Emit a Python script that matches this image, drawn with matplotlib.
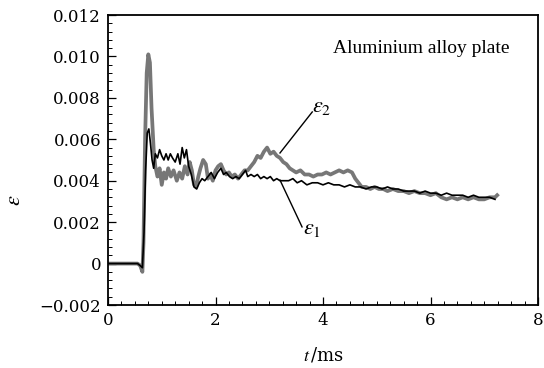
import matplotlib
matplotlib.use("Agg")
from matplotlib import pyplot as plt
from matplotlib.ticker import MultipleLocator

plt.rcParams["mathtext.fontset"] = "stix"

# datos: tiempo (ms) y deformacion
t2 = [0.0, 0.55, 0.60, 0.64, 0.66, 0.69, 0.72, 0.75, 0.78, 0.81, 0.85, 0.88, 0.92, 0.96,
      1.00, 1.04, 1.08, 1.12, 1.17, 1.22, 1.28, 1.33, 1.38, 1.43, 1.48, 1.52, 1.56, 1.60,
      1.64, 1.68, 1.72, 1.77, 1.82, 1.86, 1.90, 1.95, 2.00, 2.05, 2.10, 2.15, 2.20, 2.25,
      2.30, 2.36, 2.42, 2.48, 2.54, 2.60, 2.66, 2.72, 2.78, 2.84, 2.90, 2.96, 3.02, 3.08,
      3.14, 3.20, 3.26, 3.32, 3.38, 3.44, 3.50, 3.58, 3.66, 3.74, 3.82, 3.90, 3.98, 4.06,
      4.14, 4.22, 4.30, 4.38, 4.46, 4.54, 4.60, 4.66, 4.72, 4.80, 4.88, 4.96, 5.04, 5.12,
      5.20, 5.30, 5.40, 5.50, 5.60, 5.70, 5.80, 5.90, 6.00, 6.10, 6.20, 6.30, 6.40, 6.50,
      6.60, 6.70, 6.80, 6.90, 7.00, 7.10, 7.20, 7.24]
eps2 = [0.0, 0.0, -0.0001, -0.0004, 0.0010, 0.0060, 0.0092, 0.0101, 0.0097, 0.0075, 0.0055,
        0.0047, 0.0042, 0.0046, 0.0038, 0.0044, 0.0041, 0.0046, 0.0042, 0.0045, 0.0040,
        0.0044, 0.0041, 0.0047, 0.0043, 0.0049, 0.0045, 0.0038, 0.0037, 0.0042, 0.0046,
        0.0050, 0.0048, 0.0041, 0.0043, 0.0040, 0.0045, 0.0047, 0.0048, 0.0045, 0.0043,
        0.0044, 0.0042, 0.0043, 0.0041, 0.0043, 0.0045, 0.0045, 0.0047, 0.0049, 0.0052,
        0.0051, 0.0054, 0.0056, 0.0053, 0.0054, 0.0052, 0.0051, 0.0049, 0.0048, 0.0046,
        0.0045, 0.0044, 0.0045, 0.0043, 0.0043, 0.0042, 0.0043, 0.0043, 0.0044, 0.0043,
        0.0044, 0.0045, 0.0044, 0.0045, 0.0044, 0.0041, 0.0039, 0.0037, 0.0037, 0.0036,
        0.0037, 0.0036, 0.0036, 0.0035, 0.0036, 0.0035, 0.0035, 0.0034, 0.0035, 0.0034,
        0.0034, 0.0033, 0.0034, 0.0032, 0.0031, 0.0032, 0.0031, 0.0032, 0.0031, 0.0032,
        0.0031, 0.0031, 0.0032, 0.0032, 0.0033]

t1 = [0.0, 0.55, 0.60, 0.64, 0.67, 0.70, 0.73, 0.76, 0.79, 0.82, 0.85, 0.88, 0.92, 0.96,
      1.00, 1.04, 1.08, 1.12, 1.16, 1.20, 1.25, 1.30, 1.34, 1.38, 1.42, 1.46, 1.50, 1.55,
      1.60, 1.65, 1.70, 1.75, 1.80, 1.86, 1.92, 1.98, 2.04, 2.10, 2.15, 2.20, 2.26, 2.32,
      2.38, 2.44, 2.50, 2.56, 2.60, 2.66, 2.72, 2.78, 2.84, 2.90, 2.96, 3.02, 3.08, 3.14,
      3.20, 3.28, 3.36, 3.44, 3.52, 3.60, 3.70, 3.80, 3.90, 4.00, 4.10, 4.20, 4.30, 4.40,
      4.50, 4.60, 4.70, 4.80, 4.90, 5.00, 5.10, 5.20, 5.30, 5.40, 5.50, 5.60, 5.70, 5.80,
      5.90, 6.00, 6.10, 6.20, 6.30, 6.40, 6.50, 6.60, 6.70, 6.80, 6.90, 7.00, 7.10, 7.20]
eps1 = [0.0, 0.0, -0.0001, -0.0002, 0.0015, 0.0045, 0.0063, 0.0065, 0.0058, 0.0050, 0.0046,
        0.0053, 0.0051, 0.0055, 0.0052, 0.0050, 0.0053, 0.0050, 0.0053, 0.0051, 0.0049,
        0.0053, 0.0048, 0.0056, 0.0051, 0.0055, 0.0047, 0.0043, 0.0037, 0.0036, 0.0039,
        0.0041, 0.0040, 0.0042, 0.0044, 0.0041, 0.0044, 0.0046, 0.0043, 0.0044, 0.0042,
        0.0041, 0.0042, 0.0041, 0.0043, 0.0045, 0.0042, 0.0043, 0.0042, 0.0043, 0.0041,
        0.0042, 0.0041, 0.0042, 0.0040, 0.0041, 0.0040, 0.0040, 0.0040, 0.0041, 0.0039,
        0.0040, 0.0038, 0.0039, 0.0039, 0.0038, 0.0039, 0.0038, 0.0038, 0.0037, 0.0038,
        0.0037, 0.0037, 0.0036, 0.0037, 0.0037, 0.0036, 0.0037, 0.0036, 0.0036, 0.0035,
        0.0035, 0.0035, 0.0034, 0.0035, 0.0034, 0.0034, 0.0033, 0.0034, 0.0033, 0.0033,
        0.0033, 0.0032, 0.0033, 0.0032, 0.0032, 0.0032, 0.0031]

yticks = [-0.002, 0, 0.002, 0.004, 0.006, 0.008, 0.010, 0.012]
ylabels = ["\u22120.002", "0", "0.002", "0.004", "0.006", "0.008", "0.010", "0.012"]

fig = plt.figure(figsize=(5.44, 3.68), dpi=100)
ax = fig.add_axes([108/544, 1-305/368, 430/544, 290/368])

ax.plot(t2, eps2, color="#777777", lw=2.7, solid_joinstyle="round")
ax.plot(t1, eps1, color="black", lw=1.2)

ax.set_xlim(0, 8)
ax.set_ylim(-0.002, 0.012)
ax.set_xticks([0, 2, 4, 6, 8])
ax.xaxis.set_minor_locator(MultipleLocator(0.25))
ax.set_yticks(yticks)
ax.set_yticklabels(ylabels)
ax.yaxis.set_minor_locator(MultipleLocator(0.0004))
ax.tick_params(which="both", direction="in", top=False, right=False)
ax.tick_params(which="major", length=6, width=0.9, pad=5)
ax.tick_params(which="minor", length=3, width=0.7)
for lab in ax.get_xticklabels() + ax.get_yticklabels():
    lab.set_family("DejaVu Serif")
    lab.set_fontsize(12)
for s in ax.spines.values():
    s.set_linewidth(1.3)

ax.set_xlabel(r"$t\,$/ms", family="DejaVu Serif", fontsize=13)
ax.xaxis.set_label_coords(0.5, -0.14)
ax.set_ylabel(r"$\varepsilon$", fontsize=16)
ax.yaxis.set_label_coords(-0.195, 0.36)

# etiquetas de las curvas
ax.plot([3.80, 3.20], [0.00732, 0.00534], color="black", lw=1.0)
ax.text(3.80, 0.00755, r"$\varepsilon_2$", fontsize=16, va="center", ha="left")
ax.plot([3.61, 3.20], [0.00177, 0.00403], color="black", lw=1.0)
ax.text(3.63, 0.00165, r"$\varepsilon_1$", fontsize=16, va="center", ha="left")

ax.text(5.83, 0.0104, "Aluminium alloy plate", family="Liberation Serif",
        fontsize=14, ha="center", va="center")

plt.savefig("out.png", dpi=100)
